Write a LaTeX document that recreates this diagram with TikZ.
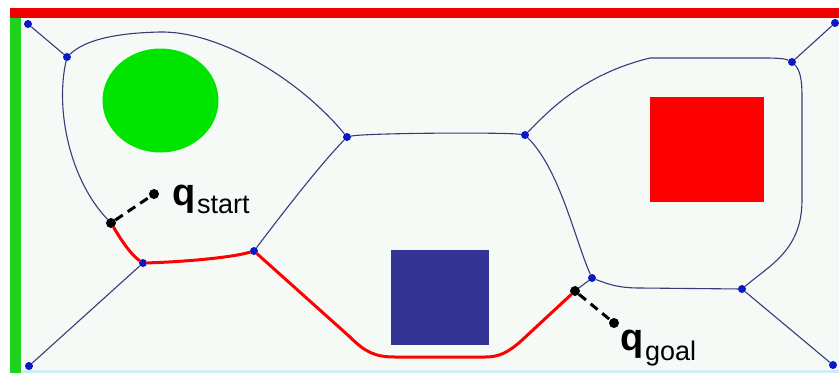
\documentclass[tikz,border=0pt]{standalone}
\usepackage{fontspec}
\setmainfont{Liberation Sans}
\definecolor{bgpale}{HTML}{F6FAF6}
\definecolor{edgec}{HTML}{3A3A78}
\definecolor{dotblue}{HTML}{0A18C8}
\definecolor{obsgreen}{HTML}{00E400}
\definecolor{obsred}{HTML}{FF0000}
\definecolor{obsblue}{HTML}{333494}
\definecolor{barred}{HTML}{EE0000}
\definecolor{bargreen}{HTML}{1ED21E}
\definecolor{cyanedge}{HTML}{CDEFF2}
\tikzset{
  vdot/.style={circle,fill=dotblue,inner sep=0pt,minimum size=8pt},
  bdot/.style={circle,fill=black,inner sep=0pt,minimum size=10pt},
  vedge/.style={draw=edgec,line width=1.1pt},
  rpath/.style={draw=obsred,line width=3pt,line cap=round,line join=round},
  hdash/.style={draw=black,line width=3pt,dash pattern=on 9pt off 6pt},
  qlab/.style={anchor=base west,inner sep=0pt,font=\fontsize{38}{40}\selectfont\bfseries},
  sublab/.style={anchor=base west,inner sep=0pt,font=\fontsize{27}{30}\selectfont}
}
\begin{document}
\begin{tikzpicture}[x=1pt,y=-1pt]
\useasboundingbox (0,0) rectangle (839,373);
% background and borders
\fill[white] (0,0) rectangle (839,373);
\fill[bgpale] (10,8) rectangle (839,370);
\fill[cyanedge] (10,370) rectangle (839,373);
\fill[barred] (10,8) rectangle (839,18);
\fill[bargreen] (10,18) rectangle (21,373);
% obstacles
\fill[obsgreen] (160.5,100.5) ellipse [x radius=58pt, y radius=52pt];
\fill[obsred] (650,97) rectangle (764,202);
\fill[obsblue] (391,250) rectangle (489,345);
% vertices
\node[vdot] (A) at (28,24) {};
\node[vdot] (B) at (67,57) {};
\node[vdot] (C) at (347,137) {};
\node[vdot] (D) at (525,135) {};
\node[vdot] (E) at (792,62) {};
\node[vdot] (F) at (835,23) {};
\node[vdot] (G) at (254,251) {};
\node[vdot] (H) at (143,263) {};
\node[vdot] (I) at (29,366) {};
\node[vdot] (J) at (592,278) {};
\node[vdot] (K) at (742,289) {};
\node[vdot] (L) at (833,365) {};
\node[bdot] (S) at (111,223) {};
\node[bdot] (Gp) at (575,291) {};
\node[bdot] (hs) at (154,194) {};
\node[bdot] (hg) at (614,323) {};
\coordinate (t1) at (160,32);
\coordinate (t2) at (650,58);
\coordinate (t3) at (765,58);
\coordinate (r1) at (802,95);
\coordinate (r2) at (802,200);
\coordinate (j1) at (640,288);
\coordinate (p1) at (350,337);
\coordinate (p2) at (395,357);
\coordinate (p3) at (485,357);
\coordinate (p4) at (520,342);
% Voronoi edges
\path[vedge] (A) -- (B);
\path[vedge] (B) .. controls (85,40) and (115,33) .. (t1)
  .. controls (220,31) and (300,80) .. (C);
\path[vedge] (B) .. controls (55,110) and (70,180) .. (S);
\path[vedge] (H) -- (I);
\path[vedge] (G) .. controls (285,210) and (320,165) .. (C);
\path[vedge] (C) .. controls (365,133) and (505,132) .. (D);
\path[vedge] (D) .. controls (545,115) and (580,75) .. (t2) -- (t3)
  .. controls (780,58) and (786,59) .. (E);
\path[vedge] (E) -- (F);
\path[vedge] (E) .. controls (800,70) and (802,80) .. (r1) -- (r2)
  .. controls (802,250) and (770,265) .. (K);
\path[vedge] (D) .. controls (560,170) and (575,240) .. (J);
\path[vedge] (J) .. controls (610,285) and (620,288) .. (j1) -- (K);
\path[vedge] (K) -- (L);
\path[vedge] (J) -- (Gp);
% planned path
\path[rpath] (S) .. controls (120,238) and (130,254) .. (H);
\path[rpath] (H) .. controls (180,262) and (230,258) .. (G);
\path[rpath] (G) -- (p1) .. controls (365,352) and (375,357) .. (p2) -- (p3)
  .. controls (500,357) and (508,352) .. (p4) -- (Gp);
% handles
\path[hdash] (S) -- (hs);
\path[hdash] (Gp) -- (hg);
% labels
\node[qlab] (qs) at (172,205) {q};
\node[sublab] (qss) at (197,213) {start};
\node[qlab] (qg) at (620,350) {q};
\node[sublab] (qgs) at (645,360) {goal};
\end{tikzpicture}
\end{document}
